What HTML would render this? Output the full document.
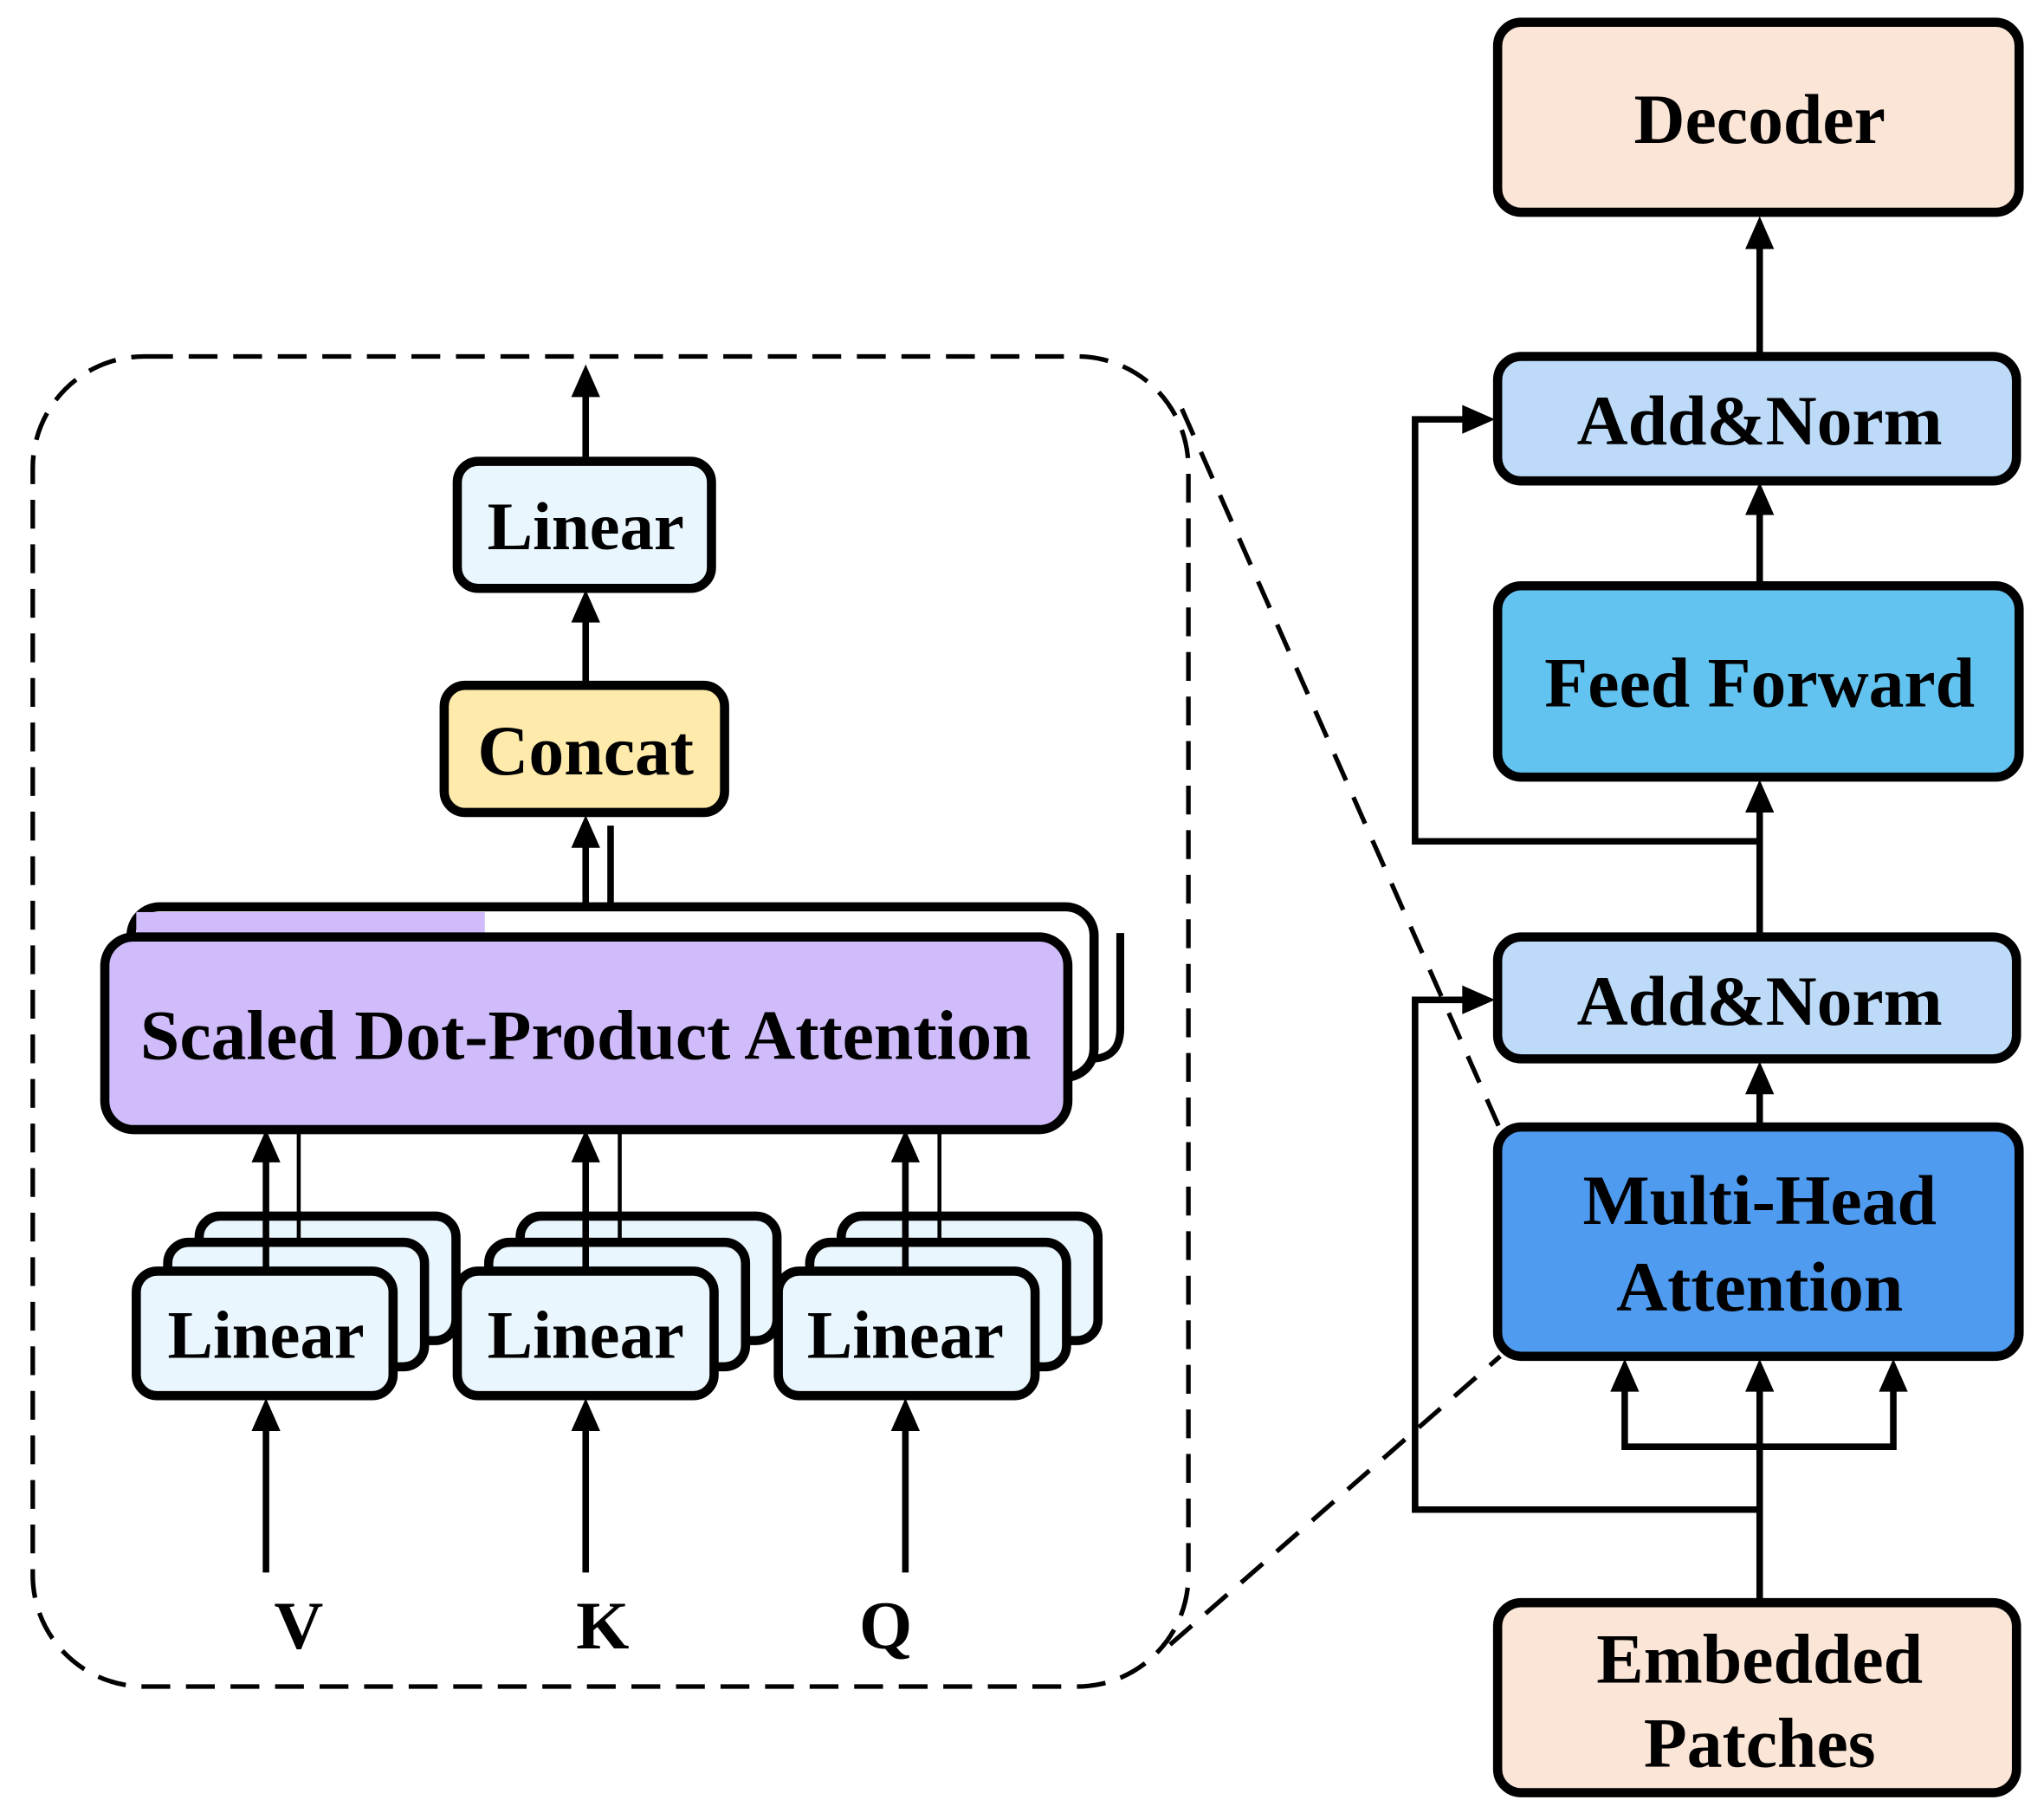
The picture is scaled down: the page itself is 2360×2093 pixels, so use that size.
<!DOCTYPE html>
<html><head><meta charset="utf-8"><style>
html,body{margin:0;padding:0;background:#fff;}
svg{display:block;}
text{font-family:"Liberation Serif",serif;font-weight:bold;fill:#000;text-anchor:middle;}
</style></head><body>
<svg width="2360" height="2093" viewBox="0 0 1560 1383.5" xmlns="http://www.w3.org/2000/svg">
<g stroke="#000" stroke-width="5" fill="none">
<rect x="25" y="272" width="882" height="1015" rx="85" stroke-dasharray="22,12" stroke-width="3.5"/>
<line x1="902" y1="312" x2="1145" y2="862" stroke-dasharray="22,14" stroke-width="3.5"/>
<line x1="893" y1="1255" x2="1145" y2="1035" stroke-dasharray="22,14" stroke-width="3.5"/>
</g>
<g stroke="#000" stroke-width="7">
<rect x="1143" y="17" width="398" height="145" rx="18" fill="#fbe5d6"/>
<rect x="1143" y="272" width="396" height="95" rx="18" fill="#bddbf8"/>
<rect x="1143" y="447" width="398" height="146" rx="18" fill="#62c3f0"/>
<rect x="1143" y="715" width="396" height="93" rx="18" fill="#bddbf8"/>
<rect x="1143" y="860" width="398" height="175" rx="18" fill="#4f9bf0"/>
<rect x="1143" y="1223" width="396" height="145" rx="18" fill="#fbe5d6"/>
</g>
<g stroke="#000" stroke-width="5" fill="none">
<line x1="1343" y1="270" x2="1343" y2="185"/>
<line x1="1343" y1="445" x2="1343" y2="390"/>
<line x1="1343" y1="713" x2="1343" y2="618"/>
<polyline points="1343,642 1080,642 1080,320 1120,320"/>
<line x1="1343" y1="860" x2="1343" y2="832"/>
<line x1="1343" y1="1222" x2="1343" y2="1060"/>
<polyline points="1240,1060 1240,1104 1445,1104 1445,1060"/>
<polyline points="1343,1152 1080,1152 1080,763 1120,763"/>
</g>
<g fill="#000">
<polygon points="1343,165 1332,190 1354,190"/>
<polygon points="1343,368 1332,393 1354,393"/>
<polygon points="1343,595 1332,620 1354,620"/>
<polygon points="1343,810 1332,835 1354,835"/>
<polygon points="1141,320 1116,309 1116,331"/>
<polygon points="1141,763 1116,752 1116,774"/>
<polygon points="1240,1037 1229,1062 1251,1062"/>
<polygon points="1343,1037 1332,1062 1354,1062"/>
<polygon points="1445,1037 1434,1062 1456,1062"/>
</g>
<text x="1343" y="109" font-size="54">Decoder</text>
<text x="1343" y="339" font-size="54">Add&amp;Norm</text>
<text x="1343" y="539" font-size="54">Feed Forward</text>
<text x="1343" y="782" font-size="54">Add&amp;Norm</text>
<text x="1343" y="934" font-size="54">Multi-Head</text>
<text x="1343" y="1000" font-size="54">Attention</text>
<text x="1343" y="1284" font-size="54">Embedded</text>
<text x="1343" y="1348" font-size="54">Patches</text>

<g stroke="#000" stroke-width="5" fill="none">
<line x1="447" y1="352" x2="447" y2="300"/>
<line x1="447" y1="523" x2="447" y2="472"/>
<line x1="447" y1="713" x2="447" y2="645"/>
<line x1="466" y1="692" x2="466" y2="630"/>
</g>
<g fill="#000">
<polygon points="447,278 436,303 458,303"/>
<polygon points="447,450 436,475 458,475"/>
<polygon points="447,622 436,647 458,647"/>
</g>
<g stroke="#000" stroke-width="7">
<rect x="349" y="352" width="194" height="97" rx="16" fill="#eaf6fd"/>
<rect x="339" y="523" width="214" height="97" rx="16" fill="#feeaaa"/>
<path d="M855 712 V785 Q855 808 832 808" fill="none" stroke-width="6"/>
<rect x="100" y="692" width="735" height="130" rx="22" fill="#fff"/>
<rect x="104" y="696" width="266" height="20" fill="#d0bcfa" stroke="none"/>
<rect x="80" y="715" width="735" height="147" rx="22" fill="#d0bcfa"/>
</g>
<text x="447" y="808" font-size="54">Scaled Dot-Product Attention</text>
<g stroke="#000" stroke-width="7">
<rect x="152" y="928" width="196" height="95" rx="16" fill="#eaf6fd"/>
<rect x="128" y="948" width="196" height="95" rx="16" fill="#eaf6fd"/>
<rect x="104" y="970" width="196" height="95" rx="16" fill="#eaf6fd"/>
<rect x="397" y="928" width="196" height="95" rx="16" fill="#eaf6fd"/>
<rect x="373" y="948" width="196" height="95" rx="16" fill="#eaf6fd"/>
<rect x="349" y="970" width="196" height="95" rx="16" fill="#eaf6fd"/>
<rect x="642" y="928" width="196" height="95" rx="16" fill="#eaf6fd"/>
<rect x="618" y="948" width="196" height="95" rx="16" fill="#eaf6fd"/>
<rect x="594" y="970" width="196" height="95" rx="16" fill="#eaf6fd"/>
</g>
<g stroke="#000" stroke-width="5" fill="none">
<line x1="203" y1="970" x2="203" y2="885"/>
<line x1="447" y1="970" x2="447" y2="885"/>
<line x1="691" y1="970" x2="691" y2="885"/>
<line x1="203" y1="1200" x2="203" y2="1090"/>
<line x1="447" y1="1200" x2="447" y2="1090"/>
<line x1="691" y1="1200" x2="691" y2="1090"/>
<line x1="228" y1="862" x2="228" y2="948" stroke-width="3"/>
<line x1="473" y1="862" x2="473" y2="948" stroke-width="3"/>
<line x1="717" y1="862" x2="717" y2="948" stroke-width="3"/>
</g>
<g fill="#000">
<polygon points="203,862 192,887 214,887"/>
<polygon points="447,862 436,887 458,887"/>
<polygon points="691,862 680,887 702,887"/>
<polygon points="203,1067 192,1092 214,1092"/>
<polygon points="447,1067 436,1092 458,1092"/>
<polygon points="691,1067 680,1092 702,1092"/>
</g>
<text x="203" y="1036" font-size="52">Linear</text>
<text x="447" y="1036" font-size="52">Linear</text>
<text x="691" y="1036" font-size="52">Linear</text>
<text x="447" y="419" font-size="52">Linear</text>
<text x="447" y="591" font-size="54">Concat</text>
<text x="228" y="1258" font-size="52">V</text>
<text x="460" y="1258" font-size="52">K</text>
<text x="676" y="1258" font-size="52">Q</text>
</svg>
</body></html>
